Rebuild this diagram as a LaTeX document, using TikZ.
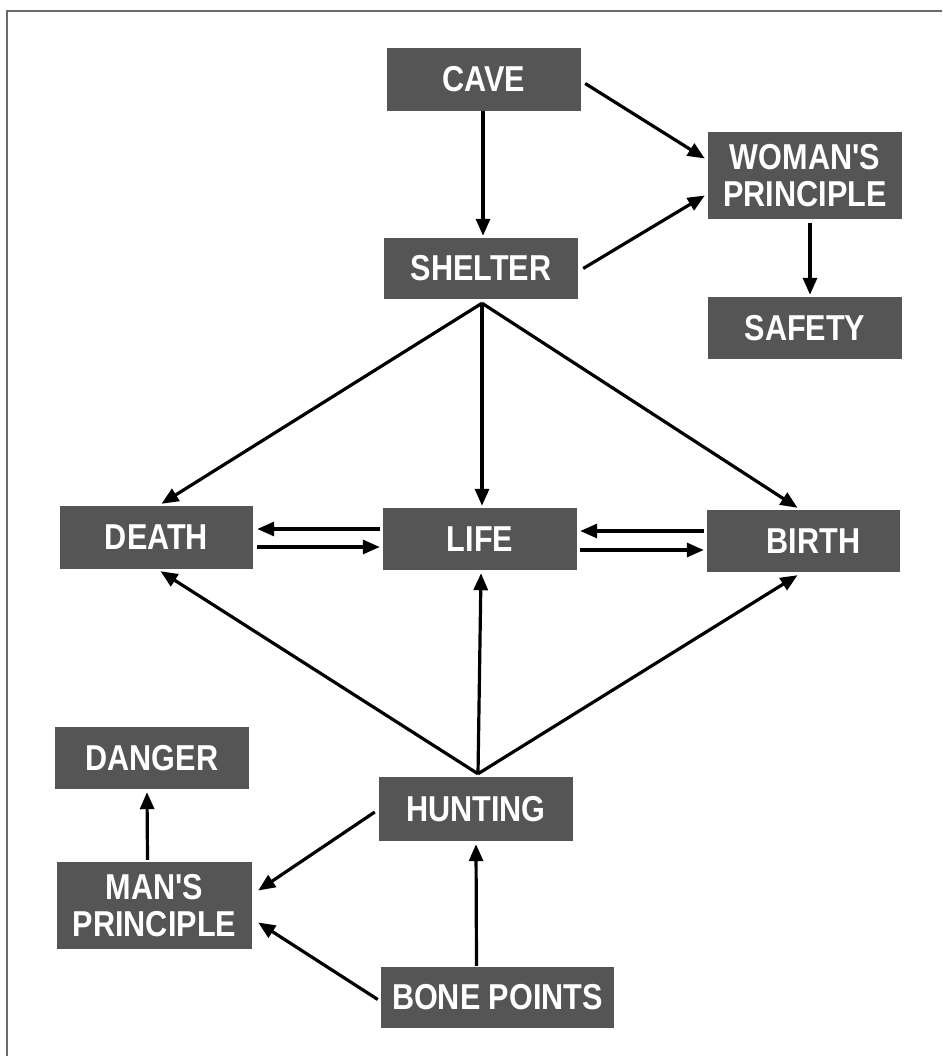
\documentclass[tikz,border=0pt]{standalone}
\usepackage{fontspec}
\newfontfamily\boxfont{Liberation Sans}[FakeStretch=0.85]
\usetikzlibrary{arrows.meta,calc}
\definecolor{boxgray}{HTML}{555555}
\definecolor{framegray}{HTML}{6A6A6A}
\begin{document}
\begin{tikzpicture}[x=1pt,y=-1pt,
  box/.style={fill=boxgray,draw=none,text=white,inner sep=0pt,align=center,
    minimum width=194pt,minimum height=62pt,
    font=\boxfont\bfseries\fontsize{36}{37}\selectfont},
  conn/.style={line width=3.2pt,-{Triangle[length=17pt,width=14pt]}}]
\useasboundingbox (0,0) rectangle (942,1056);
\draw[framegray,line width=2pt] (7,1056) -- (7,11) -- (942,11);

\node[box,minimum height=63pt] (cave) at (484,79.5) {CAVE};
\node[box,minimum height=87pt] (woman) at (805,175.5) {WOMAN'S\\PRINCIPLE};
\node[box,minimum height=61pt] (shelter) at (481,268.5) {SHELTER};
\node[box] (safety) at (805,328) {SAFETY};
\node[box,minimum width=193pt,minimum height=63pt] (death) at (156.5,537.5) {DEATH};
\node[box] (life) at (480,539) {LIFE};
\node[box,minimum width=193pt] (birth) at (803.5,541) {\hspace*{20pt}BIRTH};
\node[box] (danger) at (152,758) {DANGER};
\node[box,minimum height=64pt] (hunting) at (476,809) {HUNTING};
\node[box,minimum width=195pt,minimum height=87pt] (man) at (154.5,905.5) {MAN'S\\PRINCIPLE};
\node[box,minimum width=233pt,minimum height=61pt] (bone) at (497.5,997.5) {BONE POINTS};

\coordinate (sh) at ($(shelter.south)+(1,4)$);
\coordinate (hu) at ($(hunting.north)+(2,-3)$);

\draw[conn] ($(cave.south)+(-1,0)$) -- ($(shelter.north)+(2,-2)$);
\draw[conn] ($(cave.east)+(4,4)$) -- ($(woman.west)+(-3,-17)$);
\draw[conn] ($(shelter.east)+(5,0)$) -- ($(woman.west)+(-3,20)$);
\draw[conn] ($(woman.south)+(5,4)$) -- ($(safety.north)+(5,-2)$);

\draw[conn] (sh) -- ($(death.north)+(5,-2)$);
\draw[conn] (sh) -- ($(life.north)+(2,-2)$);
\draw[conn] (sh) -- ($(birth.north)+(-6,-2)$);

\draw[conn] ($(life.west)+(-3,-10)$) -- ($(death.east)+(4,-8.5)$);
\draw[conn] ($(death.east)+(4,9.5)$) -- ($(life.west)+(-3,8)$);
\draw[conn] ($(birth.west)+(-3,-10)$) -- ($(life.east)+(3,-8)$);
\draw[conn] ($(life.east)+(3,11)$) -- ($(birth.west)+(-3,9)$);

\draw[conn] (hu) -- ($(death.south)+(4,2)$);
\draw[conn] (hu) -- ($(life.south)+(1,3)$);
\draw[conn] (hu) -- ($(birth.south)+(-6,3)$);

\draw[conn] ($(hunting.west)+(-4,3)$) -- ($(man.east)+(6,-15)$);
\draw[conn] ($(bone.west)+(-3,2)$) -- ($(man.east)+(6,17)$);
\draw[conn] ($(bone.north)+(-21,-1)$) -- ($(hunting.south)+(0,3)$);
\draw[conn] ($(man.north)+(-7,-2)$) -- ($(danger.south)+(-5,3)$);
\end{tikzpicture}
\end{document}
